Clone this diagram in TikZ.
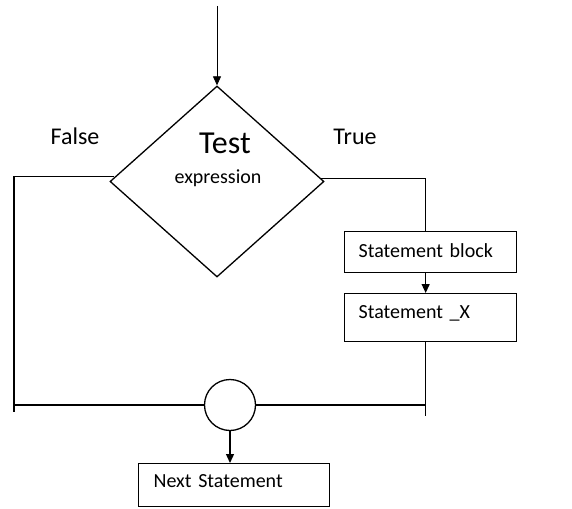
\documentclass[tikz,border=0pt]{standalone}
\usepackage{fontspec}
\setmainfont{Carlito}
\usetikzlibrary{shapes.geometric,arrows.meta}
\begin{document}
\begin{tikzpicture}[x=1pt,y=-1pt,line width=1.3pt,
  flow/.style={-{Triangle[width=8pt,length=9pt]}},
  stmt/.style={draw,rectangle,anchor=north west,align=left,inner ysep=0pt,
    font=\fontsize{20}{24}\selectfont},
  lbl/.style={inner sep=0pt,anchor=base,font=\fontsize{24}{28}\selectfont}]
\useasboundingbox (0,0) rectangle (572,508);

% decision
\coordinate (start) at (217,6);
\node[draw,diamond,minimum width=214pt,minimum height=191pt,inner sep=0pt] (test) at (217,181.5) {};
\node[inner sep=0pt,anchor=base,font=\fontsize{32}{36}\selectfont] (ttest) at (225,153) {Test};
\node[inner sep=0pt,anchor=base,font=\fontsize{20}{24}\selectfont] (texpr) at (218,183) {expression};
\node[lbl] (false) at (75,144) {False};
\node[lbl] (true) at (355,144) {True};

% statements
\node[stmt,inner xsep=14pt,text width=144pt,text height=26pt,text depth=15pt] (blk) at (344,231) {Statement block};
\node[stmt,inner xsep=14pt,text width=144pt,text height=25pt,text depth=23pt] (sx) at (344,293) {Statement \_X};
\node[stmt,inner xsep=15pt,text width=161pt,text height=24pt,text depth=19pt] (next) at (138,463) {Next Statement};

% join point
\node[draw,circle,minimum size=51pt,inner sep=0pt] (join) at (230,405) {};

% connectors
\draw[flow,line width=0.8pt] (start) -- (test.north);
\coordinate (lb) at (14,412);
\draw ([shift={(4.5pt,5pt)}]test.west) -| (lb);
\draw (join.west) -- (join.west -| lb);
\draw ([shift={(-3.4pt,3pt)}]test.east) -| ([xshift=-5pt]blk.north);
\draw[flow] ([xshift=-5pt]blk.south) -- ([xshift=-5pt]sx.north);
\draw ([xshift=-5pt]sx.south) -- ++(0,74) coordinate (rb);
\draw (join.east) -- (join.east -| rb);
\draw[flow] (join.south) -- (join.south |- next.north);
\end{tikzpicture}
\end{document}
